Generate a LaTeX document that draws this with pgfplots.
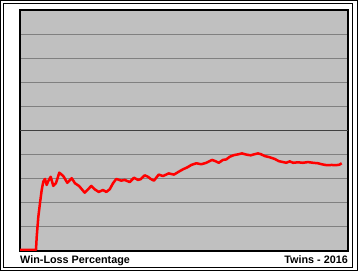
\documentclass[border=0pt]{standalone}
\usepackage{pgfplots}
\pgfplotsset{compat=1.18}
\usepackage{fontspec}
\setmainfont{Liberation Sans}
\definecolor{plotbg}{HTML}{C0C0C0}
\definecolor{gridgray}{HTML}{808080}
\definecolor{griddark}{HTML}{404040}
\begin{document}
\begin{tikzpicture}[x=1bp,y=1bp]
\fill[white] (0,0) rectangle (358,271);
\useasboundingbox (0,0) rectangle (358,271);
\draw[black,line width=1.5bp] (0.75,0.75) rectangle (357.25,270.25);
\draw[black,line width=1bp] (3.5,3.5) rectangle (352.5,267.5);
\begin{axis}[at={(20bp,20bp)}, anchor=south west, scale only axis,
  width=328bp, height=241bp, xmin=20, xmax=348, ymin=0, ymax=1,
  xtick=\empty, ytick={0.1,0.2,0.3,0.4,0.6,0.7,0.8,0.9}, yticklabels={},
  major tick length=0pt, ymajorgrids,
  grid style={gridgray, line width=1bp},
  extra y ticks={0.5}, extra y tick labels={},
  extra y tick style={grid style={griddark,line width=1.3bp}},
  axis background/.style={fill=plotbg},
  axis line style={black,line width=1.5bp}, clip=true]
\addplot[red, line width=2.5bp, line join=round] coordinates {
(20,0.005) (36,0.005) (36.7,0.058) (38.3,0.141) (40,0.199) (41.7,0.253)
(43.3,0.288) (45,0.299) (46.7,0.274) (48,0.288) (50.7,0.308) (53.3,0.270)
(56,0.282) (59.3,0.325) (63.3,0.311) (67.3,0.283) (71.7,0.302) (75,0.281)
(79,0.270) (84.7,0.242) (91.3,0.270) (94.7,0.256) (98.7,0.245) (103,0.253)
(106.3,0.245) (109.7,0.256) (113,0.281) (116.3,0.299) (121.3,0.292) (124.7,0.295)
(129.7,0.286) (134,0.304) (138,0.295) (140.7,0.298) (144.7,0.314) (148,0.308)
(150.7,0.299) (154,0.292) (158.7,0.317) (163,0.311) (168.7,0.322) (174,0.317)
(178.7,0.329) (183,0.339) (187.3,0.347) (191.3,0.357) (196.3,0.364) (201.3,0.360)
(206.3,0.366) (212,0.378) (215.3,0.373) (218.7,0.366) (223,0.378) (226.3,0.380)
(229.7,0.391) (234,0.398) (238,0.401) (242,0.405) (246.3,0.400) (250.7,0.397)
(254,0.401) (258,0.405) (260.7,0.402) (264.7,0.394) (269.7,0.389) (274.7,0.382)
(278.7,0.373) (283,0.369) (286.3,0.366) (289.7,0.372) (293,0.366) (298,0.368)
(303,0.366) (308,0.369) (313,0.366) (318,0.364) (321.7,0.360) (326.7,0.356)
(331.7,0.357) (336,0.356) (339.3,0.358) (341.7,0.364)
};
\end{axis}
\node[anchor=base west,inner sep=0pt,font=\fontsize{10.8bp}{12bp}\selectfont\bfseries] at (20,7.5) {Win-Loss Percentage};
\node[anchor=base east,inner sep=0pt,font=\fontsize{10.8bp}{12bp}\selectfont\bfseries] at (348,7.5) {Twins - 2016};
\end{tikzpicture}
\end{document}
